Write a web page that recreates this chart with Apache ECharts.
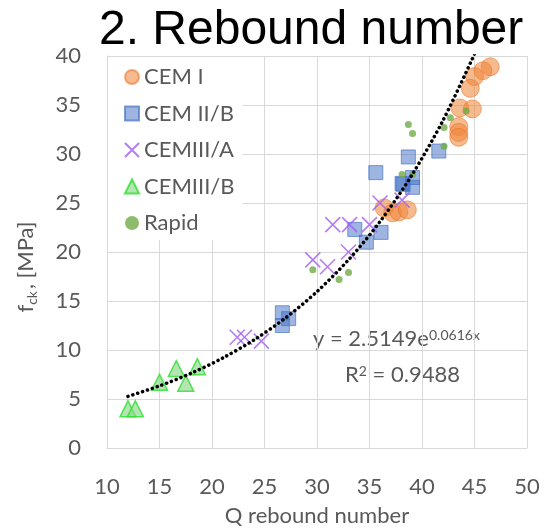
<!DOCTYPE html>
<html>
<head>
<meta charset="utf-8">
<script src="https://cdn.jsdelivr.net/npm/echarts@6/dist/echarts.min.js"></script>
<style>
html,body{margin:0;padding:0;background:#fff;}
#chart{width:548px;height:532px;}
</style>
</head>
<body>
<div id="chart"></div>
<script>
// Data: [Q rebound number, fck MPa]
var cemI = [[46.5,38.9],[45.8,38.5],[45.0,37.9],[44.6,36.7],[43.6,34.7],[44.8,34.6],[43.5,32.8],[43.5,32.2],[43.5,31.7],
            [36.4,24.5],[37.2,24.0],[37.8,24.1],[38.6,24.3]];
var cemIIB = [[38.7,29.7],[35.6,28.1],[41.6,30.3],[38.1,27.0],[39.1,27.6],[39.1,26.6],[38.2,26.9],
              [33.6,22.3],[36.1,22.0],[34.7,21.0],[26.7,13.8],[27.3,13.2],[26.7,12.5]];
var cemIIIA = [[36.0,25.0],[38.1,25.3],[31.5,22.8],[33.1,22.8],[35.0,22.8],[33.0,20.0],[29.6,19.2],[31.0,18.5],
               [22.4,11.3],[23.1,11.3],[24.7,10.9]];
var cemIIIB = [[12.0,4.0],[12.7,4.0],[15.0,6.7],[16.6,8.1],[17.5,6.6],[18.6,8.3]];
var rapid = [[38.7,33.0],[39.1,32.1],[44.2,34.4],[42.7,33.7],[42.1,32.7],[42.1,30.8],[38.1,27.9],[39.1,27.9],
             [29.6,18.2],[32.1,17.2],[33.0,17.9]];
// dotted trend curve
var trend = [[12,5.27],[15,6.34],[18,7.62],[21,9.17],[24,11.03],[27,13.27],[30,15.96],[33,19.2],[36,23.1],[39,27.79],[42,33.43],[45,40.2]];
var seriesNames = ['CEM I','CEM II/B','CEMIII/A','CEMIII/B','Rapid'];
var xTicks = {min:10, max:50, interval:5};
var yTicks = {min:0, max:40, interval:5};
var eqLine1 = '{a|y = 2.5149e}{b|0.0616x}';
var eqLine2 = '{a|R}{b|2}{a| = 0.9488}';

var FONT = 'Lato, "Open Sans", sans-serif';
var GRAY = '#595959';
var chart = echarts.init(document.getElementById('chart'), null, {renderer:'canvas'});
var option = {
  animation:false,
  backgroundColor:'#fff',
  title:{
    text:'2. Rebound number', left:99, top:7, padding:0,
    textStyle:{fontFamily:'"Liberation Sans", Arial, sans-serif', fontSize:48, fontWeight:'normal', color:'#000'}
  },
  grid:{left:107, right:21, top:56, bottom:83, containLabel:false},
  legend:{
    data:seriesNames, orient:'vertical', left:108, top:57,
    padding:[9,8,6,16], itemGap:14.5, itemWidth:14, itemHeight:14,
    backgroundColor:'#fff',
    textStyle:{fontFamily:FONT, fontSize:22, color:GRAY, lineHeight:22}
  },
  xAxis:{
    type:'value', min:xTicks.min, max:xTicks.max, interval:xTicks.interval,
    name:'Q rebound number', nameLocation:'middle', nameGap:57,
    nameTextStyle:{fontFamily:FONT, fontSize:22, color:GRAY},
    axisLine:{show:true, lineStyle:{color:'#D9D9D9'}},
    axisTick:{show:false},
    axisLabel:{fontFamily:FONT, fontSize:22, color:GRAY, margin:28},
    splitLine:{show:true, lineStyle:{color:'#D9D9D9', width:1}}
  },
  yAxis:{
    type:'value', min:yTicks.min, max:yTicks.max, interval:yTicks.interval,
    name:'{f|f}{s|ck}{f|, [MPa]}', nameLocation:'middle', nameGap:68, nameRotate:90,
    nameTextStyle:{color:GRAY, padding:[0,30,0,0],
      rich:{f:{fontFamily:FONT, fontSize:22, color:GRAY, lineHeight:26},
            s:{fontFamily:FONT, fontSize:14, color:GRAY, verticalAlign:'bottom', lineHeight:14, padding:[0,2,0,0]}}},
    axisLine:{show:true, lineStyle:{color:'#D9D9D9'}},
    axisTick:{show:false},
    axisLabel:{fontFamily:FONT, fontSize:22, color:GRAY, margin:26},
    splitLine:{show:true, lineStyle:{color:'#D9D9D9', width:1}}
  },
  graphic:[
    {type:'text', left:313, top:328, style:{text:eqLine1, fill:GRAY,
      rich:{a:{fontFamily:FONT, fontSize:22, fill:GRAY, verticalAlign:'bottom'},
            b:{fontFamily:FONT, fontSize:14, fill:GRAY, verticalAlign:'top'}}}},
    {type:'text', left:345, top:364, style:{text:eqLine2, fill:GRAY,
      rich:{a:{fontFamily:FONT, fontSize:22, fill:GRAY, verticalAlign:'bottom'},
            b:{fontFamily:FONT, fontSize:14, fill:GRAY, verticalAlign:'top'}}}}
  ],
  series:[
    {name:'trend', type:'line', data:trend, smooth:0.3, symbol:'none', z:5, silent:true,
     lineStyle:{color:'#000', width:3.5, type:[0.1,5], cap:'round'}},
    {name:'CEM I', type:'scatter', data:cemI, symbol:'circle', symbolSize:18, z:2,
     itemStyle:{color:'rgba(240,135,60,0.72)', borderColor:'rgba(230,115,40,0.7)', borderWidth:1}},
    {name:'CEM II/B', type:'scatter', data:cemIIB, symbol:'rect', symbolSize:14, z:3,
     itemStyle:{color:'rgba(68,114,196,0.65)', borderColor:'rgba(68,114,196,0.85)', borderWidth:1}},
    {name:'CEMIII/A', type:'scatter', data:cemIIIA, symbol:'path://M0,0L10,10M10,0L0,10', symbolSize:15, z:4,
     itemStyle:{color:'rgba(0,0,0,0)', borderColor:'#A35CF0', borderWidth:1.6}},
    {name:'CEMIII/B', type:'scatter', data:cemIIIB, symbol:'triangle', symbolSize:16, z:3,
     itemStyle:{color:'rgba(140,215,140,0.8)', borderColor:'#2EE02E', borderWidth:1.5}},
    {name:'Rapid', type:'scatter', data:rapid, symbol:'circle', symbolSize:7, z:4,
     itemStyle:{color:'#70AD47'}}
  ]
};
chart.setOption(option);
</script>
</body>
</html>
